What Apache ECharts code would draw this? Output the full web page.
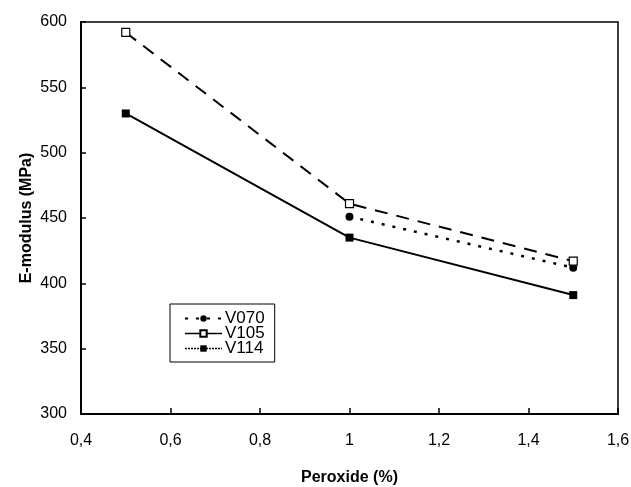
<!DOCTYPE html>
<html>
<head>
<meta charset="utf-8">
<script src="https://cdn.jsdelivr.net/npm/echarts@6/dist/echarts.min.js"></script>
<style>
    html, body { margin: 0; padding: 0; background: #fff; }
    #p1 { width: 631px; height: 487px; }
</style>
</head>
<body>
<div id="p1"></div>
<script>
// 数据
var peroxide = [0.5, 1, 1.5];
var v070 = [null, 451, 412];
var v105 = [592, 461, 417];
var v114 = [530, 435, 391];

function pairs(ys) {
    return peroxide.map(function (x, i) { return [x, ys[i]]; });
}

var myChart1 = echarts.init(document.getElementById("p1"));
var option1 = {
    animation: false,
    backgroundColor: '#fff',
    textStyle: { fontFamily: 'Liberation Sans, Arial, sans-serif', color: '#000' },
    grid: {
        left: 81,
        right: 13,
        top: 22,
        bottom: 73,
        outerBoundsMode: 'none',
        show: true,
        borderColor: '#000',
        borderWidth: 1.5
    },
    legend: {
        orient: 'vertical',
        left: 170,
        top: 304,
        padding: [6, 10, 5, 14],
        itemGap: -2,
        itemWidth: 37,
        itemHeight: 8,
        borderColor: '#000',
        borderWidth: 1,
        textStyle: { fontSize: 17, color: '#000', padding: [0, 0, 0, -2] },
        data: [
            { name: 'V070' },
            { name: 'V105', lineStyle: { type: 'solid', width: 1.5 } },
            { name: 'V114', lineStyle: { type: [2, 1], width: 1.5 } }
        ]
    },
    xAxis: {
        type: 'value',
        min: 0.4,
        max: 1.6,
        interval: 0.2,
        name: 'Peroxide (%)',
        nameLocation: 'middle',
        nameGap: 56,
        nameMoveOverlap: false,
        nameTextStyle: { fontSize: 16, fontWeight: 'bold', color: '#000' },
        splitLine: { show: false },
        axisLine: { lineStyle: { color: '#000', width: 2 } },
        axisTick: { inside: true, length: 6, lineStyle: { color: '#000', width: 1.5 } },
        axisLabel: {
            fontSize: 16,
            color: '#000',
            margin: 19,
            formatter: function (v) {
                return String(Math.round(v * 10) / 10).replace('.', ',');
            }
        }
    },
    yAxis: {
        type: 'value',
        min: 300,
        max: 600,
        interval: 50,
        name: 'E-modulus (MPa)',
        nameLocation: 'middle',
        nameGap: 46,
        nameMoveOverlap: false,
        nameTextStyle: { fontSize: 16, fontWeight: 'bold', color: '#000' },
        splitLine: { show: false },
        axisLine: { show: true, lineStyle: { color: '#000', width: 2 } },
        axisTick: { show: true, inside: true, length: 5, lineStyle: { color: '#000', width: 1.5 } },
        axisLabel: { fontSize: 16, color: '#000', margin: 14 }
    },
    series: [
        {
            name: 'V070',
            type: 'line',
            data: pairs(v070),
            symbol: 'circle',
            symbolSize: 8,
            itemStyle: { color: '#000' },
            lineStyle: { color: '#000', width: 2.5, type: [3, 8] }
        },
        {
            name: 'V105',
            type: 'line',
            data: pairs(v105),
            symbol: 'rect',
            symbolSize: 8,
            itemStyle: { color: '#fff', borderColor: '#000', borderWidth: 1.2 },
            lineStyle: { color: '#000', width: 2, type: [13, 9] }
        },
        {
            name: 'V114',
            type: 'line',
            data: pairs(v114),
            symbol: 'rect',
            symbolSize: 8,
            itemStyle: { color: '#000' },
            lineStyle: { color: '#000', width: 2, type: 'solid' }
        }
    ]
};
myChart1.setOption(option1);
</script>
</body>
</html>
